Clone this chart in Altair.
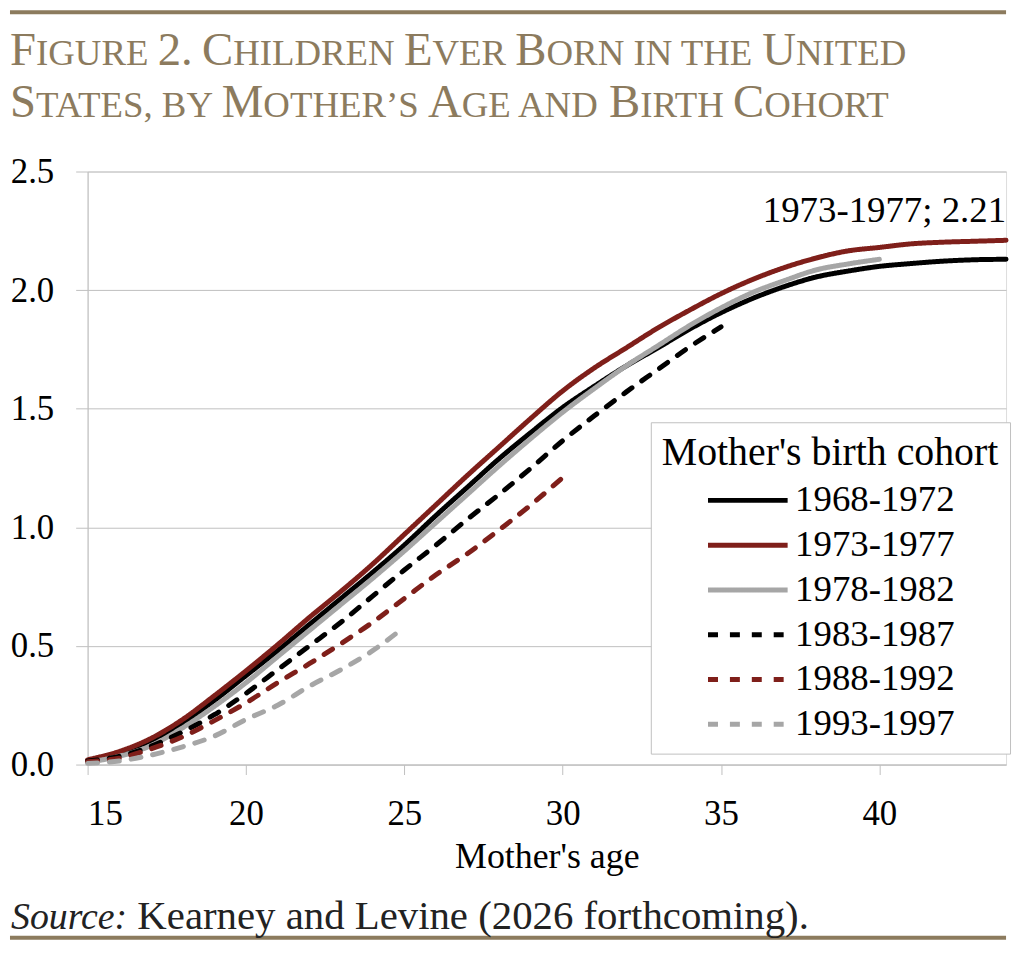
import altair as alt
import pandas as pd

# ---------------- data ----------------
ages = list(range(15, 45))
cohorts = ["1968-1972", "1973-1977", "1978-1982", "1983-1987", "1988-1992", "1993-1997"]

v1968 = [0.015, 0.045, 0.095, 0.175, 0.27, 0.375, 0.48, 0.59, 0.70, 0.81,
         0.925, 1.05, 1.17, 1.29, 1.40, 1.505, 1.595, 1.68, 1.756, 1.835,
         1.905, 1.965, 2.015, 2.055, 2.08, 2.10, 2.112, 2.122, 2.128, 2.13]
v1973 = [0.02, 0.055, 0.11, 0.19, 0.29, 0.395, 0.505, 0.62, 0.73, 0.845,
         0.97, 1.095, 1.22, 1.34, 1.46, 1.575, 1.672, 1.756, 1.84, 1.915,
         1.985, 2.045, 2.095, 2.135, 2.165, 2.18, 2.195, 2.202, 2.206, 2.21]
v1978 = [0.01, 0.035, 0.08, 0.155, 0.245, 0.345, 0.455, 0.565, 0.675, 0.785,
         0.90, 1.02, 1.14, 1.26, 1.375, 1.485, 1.585, 1.68, 1.765, 1.85,
         1.925, 1.99, 2.04, 2.085, 2.11, 2.13]
v1983 = [0.015, 0.035, 0.077, 0.138, 0.21, 0.30, 0.40, 0.50, 0.60, 0.71,
         0.82, 0.925, 1.035, 1.14, 1.25, 1.365, 1.47, 1.57, 1.665, 1.76, 1.845]
v1988 = [0.012, 0.027, 0.066, 0.117, 0.185, 0.26, 0.345, 0.425, 0.51, 0.60,
         0.70, 0.80, 0.89, 0.99, 1.095, 1.21]
v1993 = [0.005, 0.015, 0.04, 0.075, 0.12, 0.19, 0.25, 0.33, 0.40, 0.48, 0.58]

series = [v1968, v1973, v1978, v1983, v1988, v1993]
colors = ["#000000", "#7F1F1A", "#A6A6A6", "#000000", "#7F1F1A", "#A6A6A6"]
dashes = [[1, 0], [1, 0], [1, 0], [10, 12], [10, 12], [10, 12]]

x_ticks = [15, 20, 25, 30, 35, 40]
y_ticks = [0, 0.5, 1.0, 1.5, 2.0, 2.5]

title_lines = ["Figure 2. Children Ever Born in the United",
               "States, by Mother\u2019s Age and Birth Cohort"]
source_label = "Source:"
source_text = "Kearney and Levine (2026 forthcoming)."
legend_title = "Mother's birth cohort"
x_title = "Mother's age"

rows = []
for c, vals in zip(cohorts, series):
    for a, v in zip(ages, vals):
        rows.append({"cohort": c, "age": a, "value": v})
df = pd.DataFrame(rows)

ann_df = pd.DataFrame({"age": [ages[len(v1973) - 1]], "value": [v1973[-1]],
                       "label": [f"{cohorts[1]}; {v1973[-1]:.2f}"]})

# ---------------- styling ----------------
W, H = 923, 596
TAN = "#8C7B5E"
GRID = "#BFBFBF"
FONT = "Liberation Serif"

leg = alt.Legend(
    orient="none", legendX=566, legendY=252,
    title=legend_title, titleFont=FONT, titleFontSize=40, titleFontWeight="normal",
    titleColor="black", titleLimit=800, titlePadding=9,
    labelFont=FONT, labelFontSize=37, labelColor="black", labelLimit=600,
    symbolType="stroke", symbolSize=6400, symbolStrokeWidth=5,
    symbolOffset=44, labelOffset=5, clipHeight=37, rowPadding=7,
    padding=11, strokeColor=GRID, fillColor="white",
)

lines = alt.Chart(df).mark_line(strokeWidth=5, strokeCap="round", interpolate="monotone").encode(
    x=alt.X("age:Q", scale=alt.Scale(domain=[15, 44], nice=False, zero=False),
            axis=alt.Axis(values=x_ticks, title=x_title, grid=False,
                          domainColor=GRID, tickColor=GRID, tickSize=10,
                          labelFont=FONT, labelFontSize=35, labelColor="black", labelPadding=22,
                          titleFont=FONT, titleFontSize=36, titleFontWeight="normal",
                          titleColor="black", titlePadding=8)),
    y=alt.Y("value:Q", scale=alt.Scale(domain=[0, 2.5], nice=False),
            axis=alt.Axis(values=y_ticks, format=".1f", title=None,
                          domainColor=GRID, tickColor=GRID, tickSize=12,
                          gridColor=GRID, gridWidth=1,
                          labelFont=FONT, labelFontSize=35, labelColor="black", labelPadding=22)),
    color=alt.Color("cohort:N", scale=alt.Scale(domain=cohorts, range=colors), legend=leg),
    strokeDash=alt.StrokeDash("cohort:N", scale=alt.Scale(domain=cohorts, range=dashes), legend=leg),
)

ann = alt.Chart(ann_df).mark_text(align="right", baseline="alphabetic", dx=0, dy=-18,
                                  fontSize=37, font=FONT, color="black").encode(
    x="age:Q", y="value:Q", text="label:N")

one = pd.DataFrame({"k": [0]})


def text_at(txt, x, y, size, color, style="normal"):
    return alt.Chart(one).mark_text(text=txt, align="left", baseline="alphabetic",
                                    fontSize=size, font=FONT, color=color,
                                    fontStyle=style).encode(x=alt.value(x), y=alt.value(y))


# Times / Liberation Serif advance widths (em) for the small-caps layout of the title
ADV = {"A": .722, "B": .667, "C": .667, "D": .722, "E": .611, "F": .556, "G": .722,
       "H": .722, "I": .333, "J": .389, "K": .722, "L": .611, "M": .889, "N": .722,
       "O": .722, "P": .556, "Q": .722, "R": .667, "S": .556, "T": .611, "U": .722,
       "V": .722, "W": .944, "X": .722, "Y": .722, "Z": .611, " ": .25, ".": .25,
       ",": .25, "\u2019": .333, "'": .18}
KERN = {("T", "A"): -.093, ("A", "T"): -.111, ("A", "V"): -.135, ("V", "A"): -.135,
        ("R", "T"): -.06, ("R", "V"): -.08, ("R", "Y"): -.065, ("A", "G"): -.04,
        ("A", "Y"): -.105, ("Y", "A"): -.12}
BIG, SMALL = 47, 37


def run_width(txt, size):
    w = sum(ADV.get(c, .5) for c in txt)
    w += sum(KERN.get((a, b), 0) for a, b in zip(txt, txt[1:]))
    return w * size


def small_caps(line, x0, y):
    """Split a title line into big (capitals, digits) and small (lowercase) runs."""
    runs = []
    prev_big = False
    for ch in line:
        if ch.isupper() or ch.isdigit():
            big = True
        elif ch == "." and prev_big:
            big = True
        else:
            big = False
        prev_big = big
        size = BIG if big else SMALL
        if runs and runs[-1][1] == size:
            runs[-1][0] += ch.upper()
        else:
            runs.append([ch.upper(), size])
    layers = []
    x = x0
    for txt, size in runs:
        layers.append(text_at(txt, x, y, size, TAN))
        x += run_width(txt, size)
    return layers


rule_top = alt.Chart(one).mark_rule(color=TAN, strokeWidth=4).encode(
    x=alt.value(-78), x2=alt.value(W), y=alt.value(-160))
rule_bot = alt.Chart(one).mark_rule(color=TAN, strokeWidth=4).encode(
    x=alt.value(-78), x2=alt.value(W), y=alt.value(770))

title_layers = small_caps(title_lines[0], -78, -107) + small_caps(title_lines[1], -78, -55)
s1 = text_at(source_label, -77, 761, 38, "#222222", "italic")
s2 = text_at(source_text, 50, 761, 41, "#222222")

chart = alt.layer(lines, ann, rule_top, rule_bot, *title_layers, s1, s2).properties(
    width=W, height=H, padding=0
).configure_view(strokeWidth=0).configure(background="white")

chart.save("out.html", embed_options={"renderer": "svg", "actions": False})
